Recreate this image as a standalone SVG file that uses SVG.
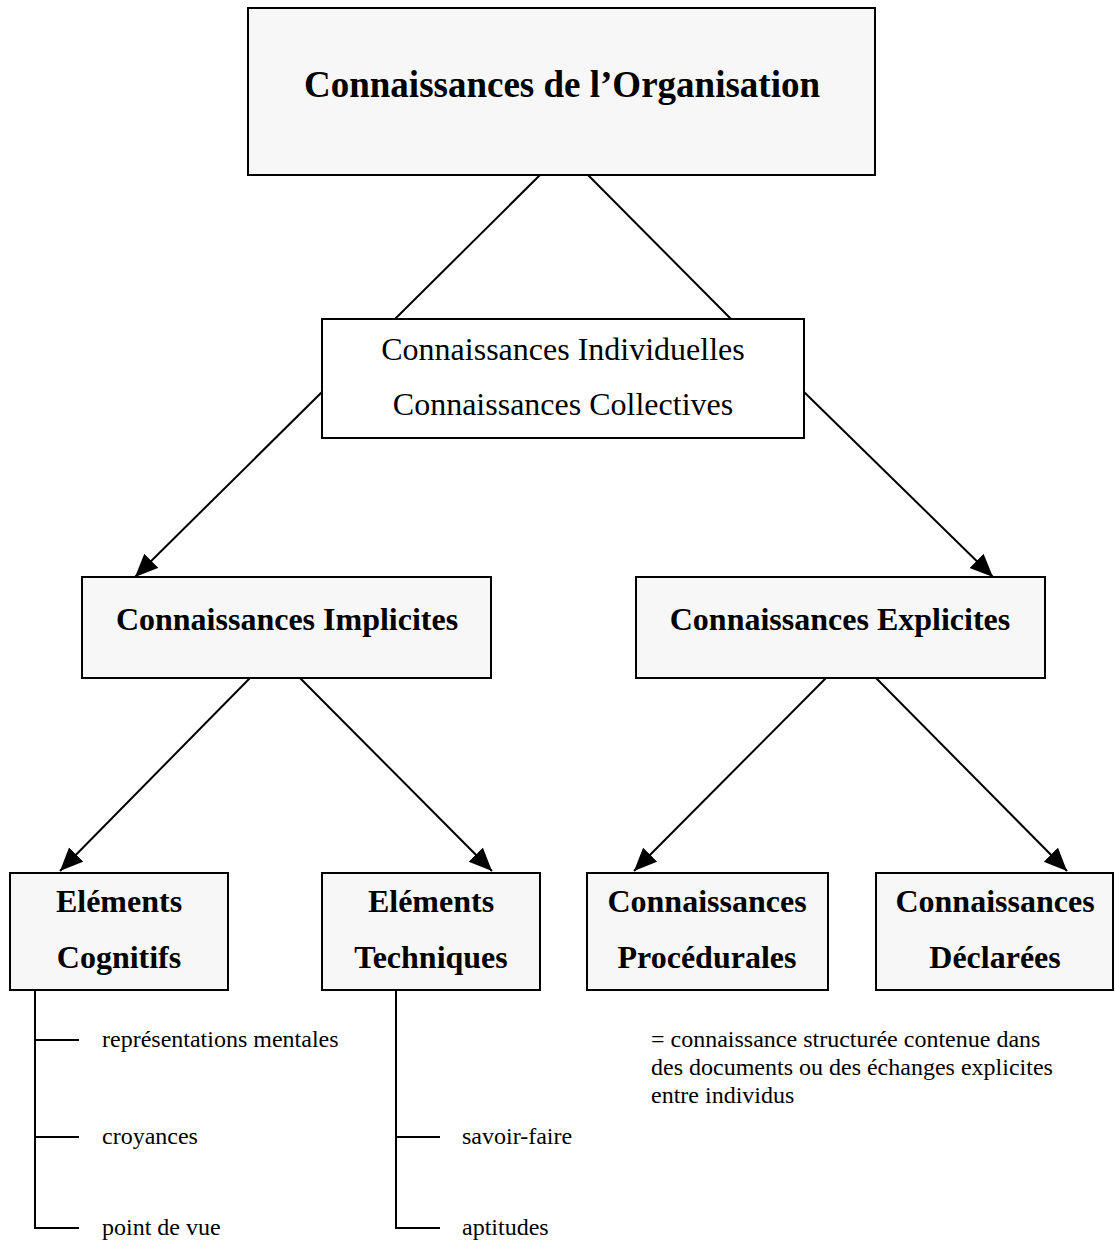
<svg xmlns="http://www.w3.org/2000/svg" width="1115" height="1245" viewBox="0 0 1115 1245">
<style>
.box{fill:#f7f7f7;stroke:#000;stroke-width:2}
.wbox{fill:#fff;stroke:#000;stroke-width:2}
.t{font-family:"Liberation Serif","Times New Roman",serif;fill:#000;text-anchor:middle}
.b{font-weight:bold;font-size:32px}
.s{font-family:"Liberation Serif","Times New Roman",serif;fill:#000;font-size:24px}
.ln{stroke:#000;stroke-width:2;fill:none}
</style>
<defs>
<marker id="ah" markerUnits="userSpaceOnUse" markerWidth="26" markerHeight="22" refX="23" refY="10" orient="auto">
<path d="M0,0 L23,10 L0,20 Z" fill="#000"/>
</marker>
</defs>
<rect width="1115" height="1245" fill="#fff"/>
<g id="connectors">
<line class="ln" x1="540" y1="175" x2="395" y2="319"/>
<line class="ln" x1="588" y1="175" x2="731" y2="319"/>
<line class="ln" x1="322" y1="392" x2="135" y2="577" marker-end="url(#ah)"/>
<line class="ln" x1="804" y1="392" x2="993" y2="577" marker-end="url(#ah)"/>
<line class="ln" x1="250" y1="678" x2="60" y2="871" marker-end="url(#ah)"/>
<line class="ln" x1="300" y1="678" x2="492" y2="871" marker-end="url(#ah)"/>
<line class="ln" x1="826" y1="678" x2="634" y2="871" marker-end="url(#ah)"/>
<line class="ln" x1="876" y1="678" x2="1067" y2="871" marker-end="url(#ah)"/>
<path class="ln" d="M35,990 V1228 H79 M35,1040 H79 M35,1137 H79"/>
<path class="ln" d="M396,990 V1228 H440 M396,1137 H440"/>
</g>
<g id="n-org">
<rect class="box" x="248" y="8" width="627" height="167"/>
<text class="t" x="562" y="97" font-size="37" font-weight="bold">Connaissances de l’Organisation</text>
</g>
<g id="n-indcol">
<rect class="wbox" x="322" y="319" width="482" height="119"/>
<text class="t" x="563" y="360" font-size="32">Connaissances Individuelles</text>
<text class="t" x="563" y="415" font-size="32">Connaissances Collectives</text>
</g>
<g id="n-impl">
<rect class="box" x="82" y="577" width="409" height="101"/>
<text class="t b" x="287" y="630">Connaissances Implicites</text>
</g>
<g id="n-expl">
<rect class="box" x="636" y="577" width="409" height="101"/>
<text class="t b" x="840" y="630">Connaissances Explicites</text>
</g>
<g id="n-cog">
<rect class="box" x="10" y="873" width="218" height="117"/>
<text class="t b" x="119" y="912">Eléments</text>
<text class="t b" x="119" y="968">Cognitifs</text>
</g>
<g id="n-tech">
<rect class="box" x="322" y="873" width="218" height="117"/>
<text class="t b" x="431" y="912">Eléments</text>
<text class="t b" x="431" y="968">Techniques</text>
</g>
<g id="n-proc">
<rect class="box" x="587" y="873" width="241" height="117"/>
<text class="t b" x="707" y="912">Connaissances</text>
<text class="t b" x="707" y="968">Procédurales</text>
</g>
<g id="n-decl">
<rect class="box" x="876" y="873" width="237" height="117"/>
<text class="t b" x="995" y="912">Connaissances</text>
<text class="t b" x="995" y="968">Déclarées</text>
</g>
<g id="leaves">
<text class="s" x="102" y="1047">représentations mentales</text>
<text class="s" x="102" y="1144">croyances</text>
<text class="s" x="102" y="1235">point de vue</text>
<text class="s" x="462" y="1144">savoir-faire</text>
<text class="s" x="462" y="1235">aptitudes</text>
</g>
<g id="note">
<text class="s" x="651" y="1047">= connaissance structurée contenue dans</text>
<text class="s" x="651" y="1075">des documents ou des échanges explicites</text>
<text class="s" x="651" y="1103">entre individus</text>
</g>
</svg>
